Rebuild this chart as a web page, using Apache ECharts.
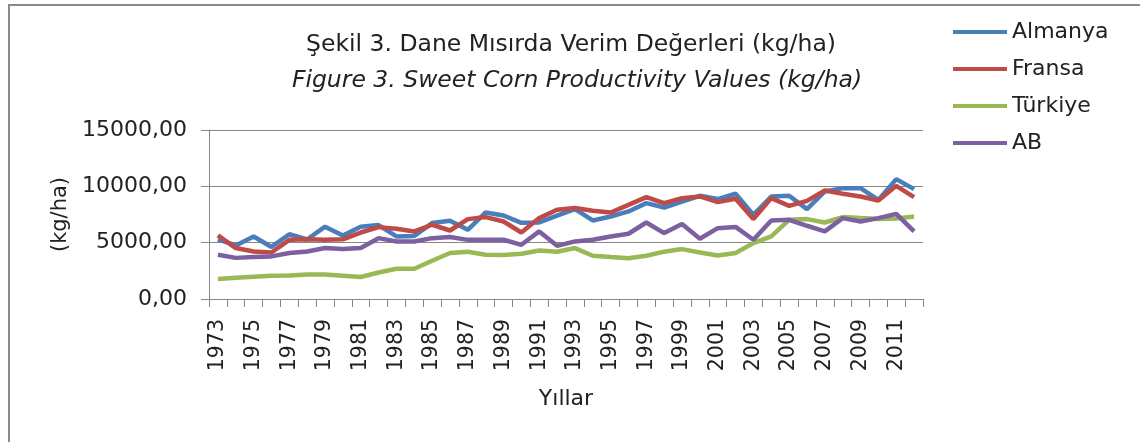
<!DOCTYPE html>
<html>
<head>
<meta charset="utf-8">
<script src="https://cdn.jsdelivr.net/npm/echarts@6/dist/echarts.min.js"></script>
<style>
html,body{margin:0;padding:0;background:#fff;}
#chart{width:1140px;height:442px;}
</style>
</head>
<body>
<div id="chart"></div>
<script>
var years = ['1973','1974','1975','1976','1977','1978','1979','1980','1981','1982',
  '1983','1984','1985','1986','1987','1988','1989','1990','1991','1992',
  '1993','1994','1995','1996','1997','1998','1999','2000','2001','2002',
  '2003','2004','2005','2006','2007','2008','2009','2010','2011','2012'];
var almanya = [5300,4750,5550,4620,5750,5280,6420,5640,6420,6560,
  5550,5600,6740,6940,6140,7680,7410,6760,6800,7400,
  7980,6970,7320,7770,8510,8120,8650,9160,8870,9340,
  7470,9100,9160,7980,9540,9840,9840,8800,10640,9750];
var fransa = [5650,4520,4220,4130,5250,5300,5250,5300,5900,6380,
  6230,6000,6590,6080,7090,7270,6880,5900,7180,7920,
  8070,7830,7680,8360,9040,8510,8950,9100,8600,8900,
  7090,8950,8270,8710,9630,9340,9100,8740,10040,9050];
var turkiye = [1770,1880,1980,2060,2090,2180,2180,2070,1950,2350,
  2690,2690,3400,4080,4200,3930,3900,4010,4300,4200,
  4520,3840,3720,3620,3840,4200,4430,4130,3860,4080,
  4960,5550,7030,7090,6790,7270,7180,7100,7150,7320];
var ab = [3930,3650,3720,3780,4080,4220,4520,4430,4520,5400,
  5110,5110,5400,5500,5250,5260,5260,4810,6000,4720,
  5110,5260,5550,5790,6790,5850,6650,5350,6290,6400,
  5260,6970,7030,6500,6000,7180,6880,7180,7560,6000];
var seriesNames = ['Almanya','Fransa','Türkiye','AB'];
var titleLine1 = 'Şekil 3. Dane Mısırda Verim Değerleri (kg/ha)';
var titleLine2 = 'Figure 3. Sweet Corn Productivity Values (kg/ha)';

var colors = ['#4a7ebb','#be4b48','#98b954','#7d60a0'];
var font = 'DejaVu Sans';
var chart = echarts.init(document.getElementById('chart'));
function mk(name, data, i){
  return {name:name, type:'line', data:data, symbol:'none', smooth:false,
    lineStyle:{width:4.5, color:colors[i]}, itemStyle:{color:colors[i]}};
}
chart.setOption({
  animation:false,
  graphic:[
    {type:'rect', shape:{x:9, y:5, width:1300, height:600}, style:{fill:'none', stroke:'#8a8a8a', lineWidth:2}},
    {type:'text', style:{text:titleLine1, x:571, y:45, align:'center', verticalAlign:'middle', font:'23.5px "'+font+'"', fill:'#222'}},
    {type:'text', style:{text:titleLine2, x:577, y:81, align:'center', verticalAlign:'middle', font:'italic 23.5px "'+font+'"', fill:'#222'}}
  ],
  legend:{
    orient:'vertical', left:948, top:16, itemWidth:54, itemHeight:4, itemGap:15, icon:'rect',
    textStyle:{fontFamily:font, fontSize:22, color:'#222', lineHeight:20},
    data:seriesNames
  },
  grid:{left:209, right:217, top:130, height:169},
  xAxis:{
    type:'category', data:years, boundaryGap:true,
    name:'Yıllar', nameLocation:'middle', nameGap:89,
    nameTextStyle:{fontFamily:font, fontSize:22, color:'#222'},
    axisLine:{lineStyle:{color:'#868686', width:1}},
    axisTick:{show:true, alignWithLabel:false, interval:0, length:8, lineStyle:{color:'#868686'}},
    axisLabel:{interval:1, rotate:90, margin:20, fontFamily:font, fontSize:20.5, color:'#222'}
  },
  yAxis:{
    type:'value', min:0, max:15000, interval:5000,
    name:'(kg/ha)', nameLocation:'middle', nameGap:137, nameRotate:90,
    nameTextStyle:{fontFamily:font, fontSize:21, color:'#222'},
    axisLine:{show:true, lineStyle:{color:'#868686', width:1}},
    axisTick:{show:true, length:8, lineStyle:{color:'#868686'}},
    splitLine:{lineStyle:{color:'#868686', width:1}},
    axisLabel:{margin:22, fontFamily:font, fontSize:22, color:'#222',
      formatter:function(v){return v.toFixed(2).replace('.', ',');}}
  },
  series:[mk(seriesNames[0], almanya, 0), mk(seriesNames[1], fransa, 1), mk(seriesNames[2], turkiye, 2), mk(seriesNames[3], ab, 3)]
});
</script>
</body>
</html>
